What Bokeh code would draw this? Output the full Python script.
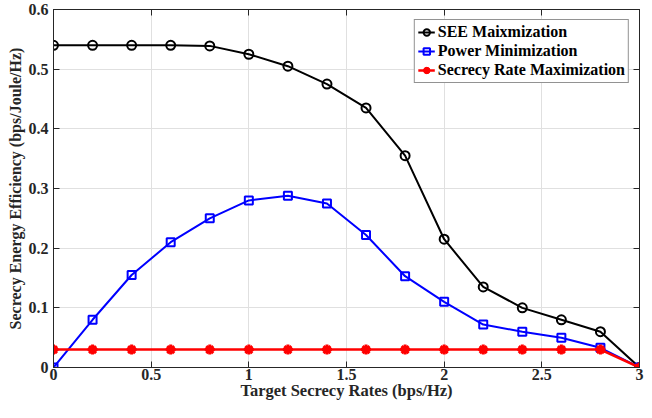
from bokeh.plotting import figure
from bokeh.models import LinearAxis, FixedTicker, Range1d, Legend, LegendItem
from bokeh.embed import file_html
from bokeh.resources import INLINE

x = [0, 0.2, 0.4, 0.6, 0.8, 1.0, 1.2, 1.4, 1.6, 1.8, 2.0, 2.2, 2.4, 2.6, 2.8, 3.0]
see_max = [0.54, 0.54, 0.54, 0.54, 0.539, 0.525, 0.505, 0.475, 0.435, 0.355, 0.215, 0.135, 0.10, 0.08, 0.06, 0.0]
power_min = [0.0, 0.08, 0.155, 0.21, 0.25, 0.28, 0.288, 0.275, 0.222, 0.153, 0.11, 0.072, 0.06, 0.05, 0.033, 0.0]
rate_max = [0.03, 0.03, 0.03, 0.03, 0.03, 0.03, 0.03, 0.03, 0.03, 0.03, 0.03, 0.03, 0.03, 0.03, 0.03, 0.0]
x_ticks = [0, 0.5, 1, 1.5, 2, 2.5, 3]
x_tick_labels = ["0", "0.5", "1", "1.5", "2", "2.5", "3"]
y_ticks = [0, 0.1, 0.2, 0.3, 0.4, 0.5, 0.6]
y_tick_labels = ["0", "0.1", "0.2", "0.3", "0.4", "0.5", "0.6"]

FONT = "Liberation Serif"

p = figure(width=644, height=402, output_backend="svg", toolbar_location=None,
           x_range=Range1d(0, 3), y_range=Range1d(0, 0.6),
           min_border_left=53, min_border_right=5, min_border_top=9, min_border_bottom=0)

p.outline_line_color = "#262626"
p.outline_line_width = 1
p.background_fill_color = "white"
p.border_fill_color = "white"

for ax in (p.xaxis[0], p.yaxis[0]):
    ax.major_tick_in = 6
    ax.major_tick_out = 0
    ax.minor_tick_in = 0
    ax.minor_tick_out = 0
    ax.axis_line_color = "#262626"
    ax.major_tick_line_color = "#262626"
    ax.major_label_text_font = FONT
    ax.major_label_text_font_style = "bold"
    ax.major_label_text_font_size = "16px"
    ax.major_label_text_color = "#262626"
    ax.axis_label_text_font = FONT
    ax.axis_label_text_font_style = "bold"
    ax.axis_label_text_color = "#262626"

p.xaxis[0].ticker = FixedTicker(ticks=x_ticks)
p.xaxis[0].major_label_overrides = {t: l for t, l in zip(x_ticks, x_tick_labels)}
p.yaxis[0].ticker = FixedTicker(ticks=y_ticks)
p.yaxis[0].major_label_overrides = {t: l for t, l in zip(y_ticks, y_tick_labels)}
p.xaxis[0].axis_label = "Target Secrecy Rates (bps/Hz)"
p.yaxis[0].axis_label = "Secrecy Energy Efficiency (bps/Joule/Hz)"
p.xaxis[0].axis_label_text_font_size = "16.5px"
p.yaxis[0].axis_label_text_font_size = "16px"
p.xaxis[0].major_label_standoff = 1
p.yaxis[0].major_label_standoff = 5
p.xaxis[0].axis_label_standoff = -2
p.yaxis[0].axis_label_standoff = 2

top = LinearAxis(ticker=FixedTicker(ticks=x_ticks),
                 major_label_overrides={t: "" for t in x_ticks},
                 major_tick_in=6, major_tick_out=0, minor_tick_in=0, minor_tick_out=0,
                 major_label_standoff=0,
                 axis_line_color="#262626", major_tick_line_color="#262626")
right = LinearAxis(ticker=FixedTicker(ticks=y_ticks),
                   major_label_overrides={t: "" for t in y_ticks},
                   major_tick_in=6, major_tick_out=0, minor_tick_in=0, minor_tick_out=0,
                   major_label_standoff=0,
                   axis_line_color="#262626", major_tick_line_color="#262626")
p.add_layout(top, "above")
p.add_layout(right, "right")

p.xgrid.ticker = FixedTicker(ticks=x_ticks)
p.ygrid.ticker = FixedTicker(ticks=y_ticks)
p.xgrid.grid_line_color = "#e0e0e0"
p.ygrid.grid_line_color = "#e0e0e0"
p.xgrid.grid_line_width = 1
p.ygrid.grid_line_width = 1

l1 = p.line(x, see_max, line_color="black", line_width=2)
m1 = p.scatter(x, see_max, marker="circle", size=9, line_color="black", line_width=2, fill_color=None)
l2 = p.line(x, power_min, line_color="#0000ff", line_width=2)
m2 = p.scatter(x, power_min, marker="square", size=8, line_color="#0000ff", line_width=2, fill_color=None)
l3 = p.line(x, rate_max, line_color="#ff0000", line_width=2.5)
m3 = p.scatter(x, rate_max, marker="asterisk", size=10, line_color="#ff0000", line_width=3)
m3b = p.scatter(x, rate_max, marker="circle", size=6, line_color="#ff0000", fill_color="#ff0000")

legend = Legend(items=[
    LegendItem(label="SEE Maixmization", renderers=[l1, m1]),
    LegendItem(label="Power Minimization", renderers=[l2, m2]),
    LegendItem(label="Secrecy Rate Maximization", renderers=[l3, m3, m3b]),
], location="top_right")
legend.label_text_font = FONT
legend.label_text_font_style = "bold"
legend.label_text_font_size = "16px"
legend.label_text_color = "black"
legend.glyph_width = 17
legend.glyph_height = 16
legend.label_height = 16
legend.spacing = 1
legend.padding = 3
legend.margin = 10
legend.label_standoff = 3
legend.border_line_color = "#262626"
legend.border_line_width = 1
legend.background_fill_alpha = 1
p.add_layout(legend)

open("out.html", "w").write(file_html(p, INLINE))
